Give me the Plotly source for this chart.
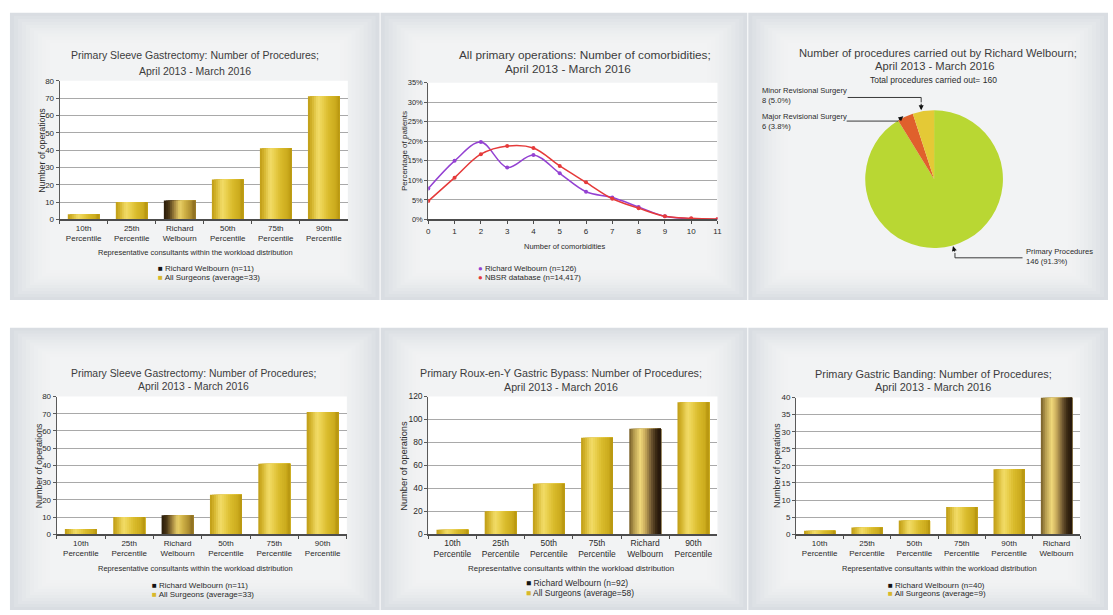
import plotly.graph_objects as go

FIG_W, FIG_H = 1113, 615

# ---------------- data ----------------
sleeve_categories = ["10th<br>Percentile", "25th<br>Percentile", "Richard<br>Welbourn",
                     "50th<br>Percentile", "75th<br>Percentile", "90th<br>Percentile"]
sleeve_values = [3, 10, 11, 23, 41, 71]
sleeve_legend = ["Richard Welbourn (n=11)", "All Surgeons (average=33)"]
sleeve_title = ["Primary Sleeve Gastrectomy: Number of Procedures;", "April 2013 - March 2016"]

bypass_categories = ["10th<br>Percentile", "25th<br>Percentile", "50th<br>Percentile",
                     "75th<br>Percentile", "Richard<br>Welbourn", "90th<br>Percentile"]
bypass_values = [4, 20, 44, 84, 92, 115]
bypass_legend = ["Richard Welbourn (n=92)", "All Surgeons (average=58)"]
bypass_title = ["Primary Roux-en-Y Gastric Bypass: Number of Procedures;", "April 2013 - March 2016"]

banding_categories = ["10th<br>Percentile", "25th<br>Percentile", "50th<br>Percentile",
                      "75th<br>Percentile", "90th<br>Percentile", "Richard<br>Welbourn"]
banding_values = [1, 2, 4, 8, 19, 40]
banding_legend = ["Richard Welbourn (n=40)", "All Surgeons (average=9)"]
banding_title = ["Primary Gastric Banding: Number of Procedures;", "April 2013 - March 2016"]

comorbidity_counts = [0, 1, 2, 3, 4, 5, 6, 7, 8, 9, 10, 11]
welbourn_pct = [7.9, 15.0, 19.8, 13.3, 16.5, 11.8, 7.1, 5.6, 3.2, 0.8, 0.2, 0.0]
nbsr_pct = [4.7, 10.7, 16.7, 18.8, 18.3, 13.7, 9.5, 5.3, 2.9, 0.8, 0.3, 0.1]
comorb_legend = ["Richard Welbourn (n=126)", "NBSR database (n=14,417)"]
comorb_title = ["All primary operations: Number of comorbidities;", "April 2013 - March 2016"]

pie_labels = ["Minor Revisional Surgery", "Major Revisional Surgery", "Primary Procedures"]
pie_values = [8, 6, 146]
pie_pct_text = ["5.0%", "3.8%", "91.3%"]
pie_colors = ['#e4c936', '#e0602c', '#b9d733']
pie_title = ["Number of procedures carried out by Richard Welbourn;", "April 2013 - March 2016"]

FONT = "Arial, 'Liberation Sans', sans-serif"


def fx(p):
    return p / FIG_W


def fy(p):
    return 1 - p / FIG_H


def hex2rgb(h):
    h = h.lstrip('#')
    return tuple(int(h[i:i + 2], 16) for i in (0, 2, 4))


def interp(stops, t):
    for (p0, c0), (p1, c1) in zip(stops[:-1], stops[1:]):
        if p0 <= t <= p1:
            a = (t - p0) / (p1 - p0) if p1 > p0 else 0
            r0, r1 = hex2rgb(c0), hex2rgb(c1)
            r = [round(r0[k] + (r1[k] - r0[k]) * a) for k in range(3)]
            return 'rgb(%d,%d,%d)' % tuple(r)
    return stops[-1][1]


GOLD = [(0, '#bf9d16'), (0.12, '#d2b22a'), (0.32, '#f2dc68'), (0.45, '#ebd150'),
        (0.65, '#d9bb2c'), (0.88, '#cbaa1c'), (1, '#b4930e')]
RW_DARK_RIGHT = [(0, '#725a26'), (0.15, '#b69c50'), (0.35, '#f1d97a'), (0.5, '#c8aa5c'),
                 (0.7, '#6c5430'), (0.85, '#382712'), (1, '#22150a')]
RW_DARK_LEFT = [(0, '#281b0a'), (0.15, '#463314'), (0.35, '#a98c42'), (0.5, '#ead16a'),
                (0.65, '#d1b348'), (0.85, '#ae8e30'), (1, '#8a6c20')]

fig = go.Figure()
layout = {}
annotations = []
shapes = []

# ---- panel backgrounds (vignette) ----
panels = [(8, 8, 380, 300), (381, 8, 750, 300), (751, 8, 1113, 300),
          (8, 328, 380, 615), (381, 328, 750, 615), (751, 328, 1113, 615)]
for (x0, y0, x1, y1) in panels:
    shapes.append(dict(type='rect', xref='paper', yref='paper', x0=fx(x0), x1=fx(x1),
                       y0=fy(y1), y1=fy(y0), fillcolor='#d9dde2', line=dict(width=0), layer='below'))
    for k in range(1, 11):
        shapes.append(dict(type='rect', xref='paper', yref='paper',
                           x0=fx(x0 + 4 * k), x1=fx(x1 - 4 * k),
                           y0=fy(y1 - 3 * k), y1=fy(y0 + 3 * k),
                           fillcolor='rgba(255,255,255,0.12)', line=dict(width=0), layer='below'))


def white_box(x0, y0, x1, y1):
    shapes.append(dict(type='rect', xref='paper', yref='paper', x0=fx(x0), x1=fx(x1),
                       y0=fy(y1), y1=fy(y0), fillcolor='white', line=dict(width=0), layer='below'))


def text_ann(x, y, text, size, color='#333333', xanchor='center', yanchor='middle', angle=0, align='center'):
    annotations.append(dict(x=fx(x), y=fy(y), xref='paper', yref='paper', text=text, showarrow=False,
                            font=dict(family=FONT, size=size, color=color), xanchor=xanchor,
                            yanchor=yanchor, textangle=angle, align=align))


def add_bar_panel(idx, cats, vals, box, ymax, dtick, rw_stops, title, title_cx, title_size, legend,
                  legend_x, legend_y, xtitle_cx, xtitle_y, ytitle_x, title_y, fsize=1.0):
    x0, y0, x1, y1 = box
    xa, ya = 'x%d' % idx, 'y%d' % idx
    xn, yn = 'xaxis%d' % idx, 'yaxis%d' % idx
    white_box(x0, y0, x1, y1)
    n = 16
    W = 0.66
    for i in range(n):
        t = (i + 0.5) / n
        colors = [interp(rw_stops if c.startswith('Richard') else GOLD, t) for c in cats]
        fig.add_trace(go.Bar(x=cats, y=vals, width=W - W * i / n, offset=-W / 2 + W * i / n,
                             marker=dict(color=colors, line=dict(width=0)), xaxis=xa, yaxis=ya,
                             showlegend=False, hoverinfo='skip' if i else 'x+y'))
    layout[xn] = dict(domain=[fx(x0), fx(x1)], anchor=ya, type='category', showline=True,
                      linecolor='#4d4d4d', linewidth=2, ticks='outside', tickson='boundaries',
                      ticklen=3, tickcolor='#4d4d4d', showgrid=False, fixedrange=True, tickangle=0,
                      tickfont=dict(family=FONT, size=8 * fsize, color='#2b2b2b'))
    layout[yn] = dict(domain=[fy(y1), fy(y0)], anchor=xa, range=[0, ymax], dtick=dtick,
                      showgrid=True, gridcolor='#a9a9a9', gridwidth=1, showline=True,
                      linecolor='#5a5a5a', linewidth=1, ticks='outside', ticklen=3,
                      tickcolor='#5a5a5a', zeroline=False, fixedrange=True,
                      tickfont=dict(family=FONT, size=8 * fsize, color='#2b2b2b'))
    text_ann(title_cx, title_y[0], title[0], title_size, '#3c3c3c')
    text_ann(title_cx, title_y[1], title[1], title_size, '#3c3c3c')
    text_ann(xtitle_cx, xtitle_y, 'Representative consultants within the workload distribution',
             7.5 * fsize, '#2b2b2b')
    text_ann(ytitle_x, (y0 + y1) / 2, 'Number of operations', 8.8 * fsize, '#2b2b2b', angle=-90)
    text_ann(legend_x, legend_y[0], '<span style="color:#141414">■</span> ' + legend[0],
             8 * fsize, '#2b2b2b', xanchor='left')
    text_ann(legend_x, legend_y[1], '<span style="color:#d8b82a">■</span> ' + legend[1],
             8 * fsize, '#2b2b2b', xanchor='left')


# Panel 1 (top-left)
add_bar_panel(1, sleeve_categories, sleeve_values, (58, 77, 348, 218), 80, 10, RW_DARK_LEFT,
              sleeve_title, 194, 10.5, sleeve_legend, 155, (268, 277), 195, 252, 40, (51, 67))
# Panel 4 (bottom-left)
add_bar_panel(3, sleeve_categories, sleeve_values, (55, 398, 347, 538), 80, 10, RW_DARK_LEFT,
              sleeve_title, 193, 10.4, sleeve_legend, 149, (590, 599), 195, 573, 38, (375, 388))
# Panel 5 (bottom-middle)
add_bar_panel(4, bypass_categories, bypass_values, (429, 398, 720, 538), 120, 20, RW_DARK_RIGHT,
              bypass_title, 563, 10.7, bypass_legend, 525, (588, 598), 573, 573, 405, (374, 388), 1.06)
# Panel 6 (bottom-right)
add_bar_panel(5, banding_categories, banding_values, (799, 399, 1085, 538), 40, 5, RW_DARK_RIGHT,
              banding_title, 937, 10.9, banding_legend, 890, (590, 598), 943, 573, 780, (375, 388))

# Panel 2 (top-middle) line chart
white_box(429, 79, 720, 218)
fig.add_trace(go.Scatter(x=comorbidity_counts, y=welbourn_pct, mode='lines+markers',
                         line=dict(color='#9442d2', width=1.5, shape='spline', smoothing=1.0),
                         marker=dict(size=4, color='#9442d2'), name=comorb_legend[0],
                         xaxis='x2', yaxis='y2', showlegend=False))
fig.add_trace(go.Scatter(x=comorbidity_counts, y=nbsr_pct, mode='lines+markers',
                         line=dict(color='#e53a3a', width=1.5, shape='spline', smoothing=1.0),
                         marker=dict(size=4, color='#e53a3a'), name=comorb_legend[1],
                         xaxis='x2', yaxis='y2', showlegend=False))
layout['xaxis2'] = dict(domain=[fx(429), fx(720)], anchor='y2', range=[0, 11], dtick=1,
                        showline=True, linecolor='#4d4d4d', linewidth=2, ticks='outside',
                        ticklen=3, tickcolor='#4d4d4d', showgrid=False, zeroline=False,
                        fixedrange=True, tickfont=dict(family=FONT, size=8, color='#2b2b2b'))
layout['yaxis2'] = dict(domain=[fy(218), fy(79)], anchor='x2', range=[0, 35], dtick=5,
                        ticksuffix='%', showgrid=True, gridcolor='#a9a9a9', gridwidth=1,
                        showline=True, linecolor='#5a5a5a', linewidth=1, ticks='outside',
                        ticklen=3, tickcolor='#5a5a5a', zeroline=False, fixedrange=True,
                        tickfont=dict(family=FONT, size=7.5, color='#2b2b2b'))
text_ann(587, 51, comorb_title[0], 11.8, '#3c3c3c')
text_ann(570, 65, comorb_title[1], 11.8, '#3c3c3c')
text_ann(567, 245, 'Number of comorbidities', 7.5, '#2b2b2b')
text_ann(405, 148, 'Percentage of patients', 8, '#2b2b2b', angle=-90)
text_ann(477, 268, '<span style="color:#9442d2">●</span> ' + comorb_legend[0], 7.8, '#2b2b2b', xanchor='left')
text_ann(477, 277, '<span style="color:#e53a3a">●</span> ' + comorb_legend[1], 7.8, '#2b2b2b', xanchor='left')

# Panel 3 (top-right) pie: drawn clockwise in reverse order so Minor sits just left of 12 o'clock
fig.add_trace(go.Pie(labels=pie_labels[::-1], values=pie_values[::-1], sort=False,
                     direction='clockwise', rotation=0, textinfo='none', showlegend=False,
                     marker=dict(colors=pie_colors[::-1], line=dict(width=0)),
                     domain=dict(x=[fx(868), fx(1008)], y=[fy(247), fy(107)])))
text_ann(942, 49, pie_title[0], 11.2, '#3c3c3c')
text_ann(938, 62, pie_title[1], 11.2, '#3c3c3c')
text_ann(937, 76, 'Total procedures carried out= %d' % sum(pie_values), 8.5, '#2b2b2b')
text_ann(763, 92.5, '%s<br>%d (%s)' % (pie_labels[0], pie_values[0], pie_pct_text[0]), 7.6, '#2b2b2b',
         xanchor='left', align='left')
text_ann(763, 118, '%s<br>%d (%s)' % (pie_labels[1], pie_values[1], pie_pct_text[1]), 7.6, '#2b2b2b',
         xanchor='left', align='left')
text_ann(1028, 255.5, '%s<br>%d (%s)' % (pie_labels[2], pie_values[2], pie_pct_text[2]), 7.6, '#2b2b2b',
         xanchor='left', align='left')


def seg(xa, ya, xb, yb):
    shapes.append(dict(type='line', xref='paper', yref='paper', x0=fx(xa), y0=fy(ya), x1=fx(xb),
                       y1=fy(yb), line=dict(color='#3a3a3a', width=1)))


def arrow(x, y, ax, ay):
    annotations.append(dict(x=fx(x), y=fy(y), xref='paper', yref='paper', text='', showarrow=True,
                            ax=ax, ay=ay, arrowhead=2, arrowsize=1, arrowwidth=1,
                            arrowcolor='#111111'))


seg(851, 94, 925, 94)
seg(925, 94, 925, 99)
arrow(925, 107, 0, -8)
seg(850, 118, 902, 118)
arrow(907, 113, -6, 5)
seg(1027, 257, 959, 257)
seg(959, 257, 959, 252)
arrow(957, 245, 2, 7)

fig.update_layout(**layout)
fig.update_layout(width=FIG_W, height=FIG_H, margin=dict(l=0, r=0, t=0, b=0), autosize=False,
                  paper_bgcolor='white', plot_bgcolor='white', barmode='overlay',
                  showlegend=False, shapes=shapes, annotations=annotations,
                  font=dict(family=FONT))
fig.write_html("out.html",
               post_script="document.body.style.margin='0';document.body.style.overflow='hidden';")
